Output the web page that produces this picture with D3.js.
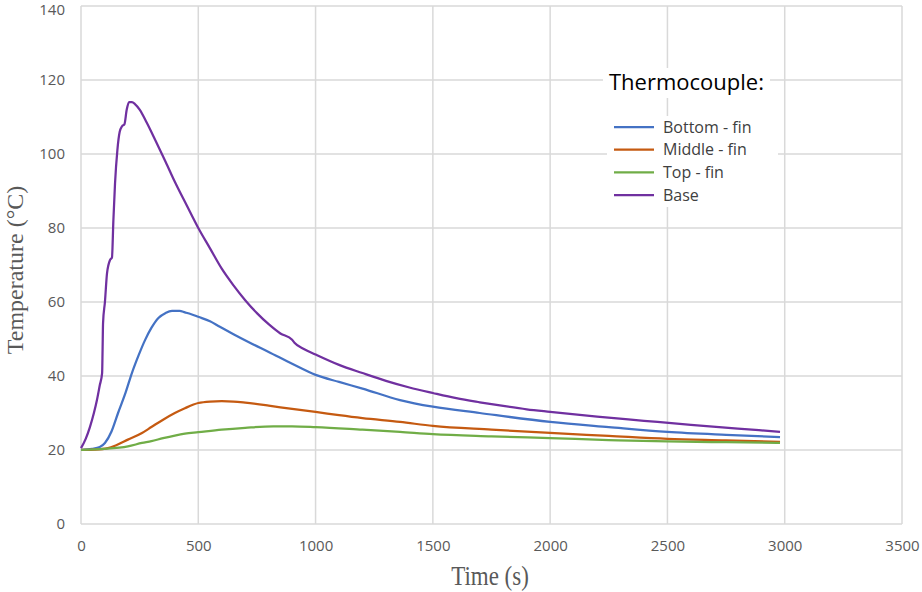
<!DOCTYPE html>
<html>
<head>
<meta charset="utf-8">
<script src="https://cdn.jsdelivr.net/npm/d3@7"></script>
<style>
  body { margin: 0; background: #fff; }
  svg { display: block; }
</style>
</head>
<body>
<svg id="chart" width="922" height="592"></svg>
<script>
// time (s) and temperature (°C)
const baseT = [0, 20, 38, 55, 68, 80, 90, 92, 94, 102, 111, 124, 132, 138, 145, 155, 165, 175, 185, 195, 205, 217, 230, 250, 280, 320, 360, 400, 450, 500, 550, 600, 650, 700, 750, 800, 850, 900, 910, 950, 1000, 1100, 1200, 1300, 1400, 1500, 1600, 1700, 1800, 1900, 2000, 2200, 2400, 2600, 2800, 2980]
const baseV = [20.5, 23, 26.2, 30, 33.5, 37.5, 40.8, 47, 54.3, 60, 67.8, 71.4, 72, 82, 92, 101, 106, 107.5, 108, 112, 114, 114, 113.5, 112, 108.5, 103.3, 98, 92.5, 86.2, 80, 74.5, 69, 64.5, 60.5, 57, 54, 51.5, 49.8, 49, 47.3, 45.8, 43, 40.8, 38.7, 36.9, 35.4, 34, 32.9, 31.9, 31, 30.3, 29, 27.9, 26.8, 25.8, 24.9]

const bottomT = [0, 47, 80, 102, 130, 158, 190, 217, 245, 273, 300, 330, 360, 388, 420, 443, 470, 500, 550, 592, 650, 720, 800, 900, 1000, 1100, 1200, 1360, 1500, 1700, 2000, 2250, 2500, 2750, 2980]
const bottomV = [20, 20.3, 20.8, 21.9, 25, 30, 35.5, 40.8, 45.5, 49.7, 53, 55.7, 57, 57.6, 57.6, 57.2, 56.7, 56, 54.8, 53.3, 51.3, 49, 46.5, 43.3, 40.3, 38.4, 36.6, 33.5, 31.7, 30, 27.6, 26.2, 24.9, 24.1, 23.5]

const middleT = [0, 60, 115, 150, 200, 260, 300, 350, 400, 443, 500, 550, 600, 650, 700, 800, 900, 1000, 1100, 1200, 1360, 1500, 1750, 2000, 2250, 2500, 2750, 2980]
const middleV = [20, 20.1, 20.5, 21.3, 22.8, 24.6, 26.2, 28.2, 30, 31.3, 32.7, 33.1, 33.2, 33.1, 32.8, 32, 31.1, 30.3, 29.4, 28.6, 27.6, 26.5, 25.5, 24.6, 23.8, 23, 22.6, 22.2]

const topT = [0, 100, 200, 260, 300, 350, 400, 443, 500, 600, 700, 820, 900, 1000, 1200, 1360, 1500, 1750, 2000, 2250, 2500, 2750, 2980]
const topV = [20, 20.3, 21, 21.9, 22.4, 23.2, 23.9, 24.4, 24.8, 25.5, 26, 26.4, 26.4, 26.2, 25.5, 24.9, 24.3, 23.7, 23.2, 22.7, 22.3, 22.1, 21.9]

const seriesNames = ["Bottom - fin", "Middle - fin", "Top - fin", "Base"]
const seriesColors = ["#4472C4", "#C55A11", "#70AD47", "#7030A0"]
const xTicks = [0, 500, 1000, 1500, 2000, 2500, 3000, 3500]
const yTicks = [0, 20, 40, 60, 80, 100, 120, 140]

const series = [
  { name: seriesNames[0], color: seriesColors[0], t: bottomT, v: bottomV },
  { name: seriesNames[1], color: seriesColors[1], t: middleT, v: middleV },
  { name: seriesNames[2], color: seriesColors[2], t: topT, v: topV },
  { name: seriesNames[3], color: seriesColors[3], t: baseT, v: baseV }
]

const svg = d3.select("#chart")

// plot area
const plotLeft = 81, plotRight = 902, plotTop = 6, plotBottom = 524

const x = d3.scaleLinear().domain([0, 3500]).range([plotLeft, plotRight])
const y = d3.scaleLinear().domain([0, 140]).range([plotBottom, plotTop])

const grid = "#d9d9d9"
const sans = "'Open Sans', Calibri, sans-serif"
const serif = "'Liberation Serif', 'Times New Roman', serif"

// gridlines
svg.append("g")
  .selectAll("line")
  .data(xTicks)
  .join("line")
  .attr("x1", d => x(d)).attr("x2", d => x(d))
  .attr("y1", plotTop).attr("y2", plotBottom)
  .attr("stroke", grid).attr("stroke-width", 1.5)

svg.append("g")
  .selectAll("line")
  .data(yTicks)
  .join("line")
  .attr("x1", plotLeft).attr("x2", plotRight)
  .attr("y1", d => y(d)).attr("y2", d => y(d))
  .attr("stroke", grid).attr("stroke-width", 1.5)

// axes (labels only, lines come from the grid)
const xAxis = svg.append("g")
  .attr("transform", `translate(0,${plotBottom})`)
  .call(d3.axisBottom(x).tickValues(xTicks).tickFormat(d3.format("d")).tickSize(0).tickPadding(16))
xAxis.select(".domain").remove()

const yAxis = svg.append("g")
  .attr("transform", `translate(${plotLeft},0)`)
  .call(d3.axisLeft(y).tickValues(yTicks).tickFormat(d3.format("d")).tickSize(0).tickPadding(16))
yAxis.select(".domain").remove()

svg.selectAll(".tick text")
  .attr("fill", "#595959")
  .attr("font-family", sans)
  .attr("font-size", 15)

// top label sits at the very edge; nudge it so it stays inside
yAxis.selectAll(".tick text").filter(d => d === 140).attr("dy", "0.55em")

// axis titles
svg.append("text")
  .attr("transform", "translate(490,585) scale(1,1.18)")
  .attr("text-anchor", "middle")
  .attr("font-family", serif)
  .attr("font-size", 23)
  .attr("fill", "#595959")
  .text("Time (s)")

svg.append("text")
  .attr("transform", "translate(23,270) rotate(-90)")
  .attr("text-anchor", "middle")
  .attr("font-family", serif)
  .attr("font-size", 24)
  .attr("fill", "#595959")
  .text("Temperature (°C)")

// lines
const line = d3.line()
  .x(d => x(d[0]))
  .y(d => y(d[1]))
  .curve(d3.curveMonotoneX)

series.forEach(s => {
  svg.append("path")
    .datum(d3.zip(s.t, s.v))
    .attr("d", line)
    .attr("fill", "none")
    .attr("stroke", s.color)
    .attr("stroke-width", 2.25)
    .attr("stroke-linejoin", "round")
})

// legend
const lg = svg.append("g")

lg.append("rect")
  .attr("x", 603).attr("y", 68).attr("width", 167).attr("height", 30)
  .attr("fill", "#fff")

lg.append("text")
  .attr("x", 609).attr("y", 90)
  .attr("font-family", sans)
  .attr("font-size", 22)
  .attr("fill", "#000")
  .text("Thermocouple:")

lg.append("rect")
  .attr("x", 607).attr("y", 116).attr("width", 171).attr("height", 91)
  .attr("fill", "#fff")

const item = lg.selectAll("g.item")
  .data(series)
  .join("g")
  .attr("class", "item")
  .attr("transform", (d, i) => `translate(0,${127 + i * 22.7})`)

item.append("line")
  .attr("x1", 614).attr("x2", 654)
  .attr("stroke", d => d.color)
  .attr("stroke-width", 2.25)

item.append("text")
  .attr("x", 663).attr("y", 0)
  .attr("dy", "0.35em")
  .attr("font-family", sans)
  .attr("font-size", 16)
  .attr("fill", "#404040")
  .text(d => d.name)
</script>
</body>
</html>
